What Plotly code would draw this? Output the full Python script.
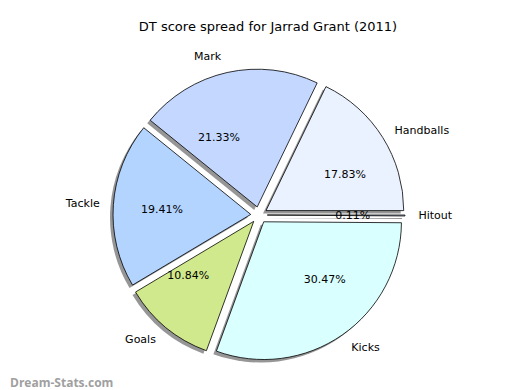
import plotly.graph_objects as go

categories = ["Handballs", "Mark", "Tackle", "Goals", "Kicks", "Hitout"]
percentages = [17.83, 21.33, 19.41, 10.84, 30.47, 0.11]
colors = ["#EAF1FF", "#C4D8FF", "#B3D4FF", "#D0E98C", "#D9FFFF", "#D0E0FF"]
explode = [0.06] * len(categories)

W, H = 520, 390
CX, CY = 251, 207      # pie centre in px (from top-left)
SIZE = 292             # domain size in px
PCT_SCALE = 0.5        # relative size of the invisible pie carrying the % labels
LBL_SCALE = 1.07       # relative size of the invisible pie carrying the category labels


def domain(cx, cy, size, dx=0, dy=0):
    half = size / 2
    return dict(
        x=[(cx - half + dx) / W, (cx + half + dx) / W],
        y=[1 - (cy + half + dy) / H, 1 - (cy - half + dy) / H],
    )


# first slice starts at 3 o'clock and runs counter-clockwise
rot = 90 - 360 * percentages[0] / sum(percentages)
common = dict(labels=categories, values=percentages, sort=False,
              direction="counterclockwise", rotation=rot, pull=explode, showlegend=False)
clear = ["rgba(0,0,0,0)"] * len(categories)

fig = go.Figure()

# shadow (offset left/down)
fig.add_trace(go.Pie(
    **common,
    marker=dict(colors=["rgba(80,80,80,0.6)"] * len(categories), line=dict(width=0)),
    textinfo="none", hoverinfo="skip",
    domain=domain(CX, CY, SIZE, dx=-3, dy=3),
))

# main pie
fig.add_trace(go.Pie(
    **common,
    marker=dict(colors=colors, line=dict(color="black", width=0.8)),
    textinfo="none",
    domain=domain(CX, CY, SIZE),
))

# category labels (invisible larger pie, labels just outside it)
fig.add_trace(go.Pie(
    **common,
    marker=dict(colors=clear, line=dict(width=0)),
    texttemplate="%{label}", textposition="outside",
    outsidetextfont=dict(family="DejaVu Sans", size=11, color="black"),
    hoverinfo="skip",
    domain=domain(CX, CY, SIZE * LBL_SCALE),
))

# percentage labels (invisible smaller pie, labels just outside it)
fig.add_trace(go.Pie(
    **common,
    marker=dict(colors=clear, line=dict(width=0)),
    texttemplate="%{value:.2f}%", textposition="outside",
    outsidetextfont=dict(family="DejaVu Sans", size=11, color="black"),
    hoverinfo="skip",
    domain=domain(CX, CY, SIZE * PCT_SCALE),
))

fig.update_layout(
    width=W, height=H,
    margin=dict(l=0, r=0, t=0, b=0),
    paper_bgcolor="white", plot_bgcolor="white",
    title=dict(text="DT score spread for Jarrad Grant (2011)", x=0.5, y=1 - 18 / H,
               xanchor="center", yanchor="middle",
               font=dict(family="DejaVu Sans", size=13, color="black")),
    annotations=[dict(text="<b>Dream-Stats.com</b>", x=0, y=0, xref="paper", yref="paper",
                      xanchor="left", yanchor="bottom", yshift=5, showarrow=False,
                      font=dict(family="Open Sans", size=12, color="#A0A0A0"))],
)

fig.write_html("out.html")
